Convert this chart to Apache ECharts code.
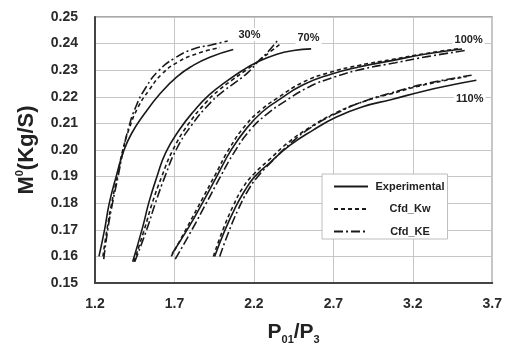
<!DOCTYPE html>
<html>
<head>
<meta charset="utf-8">
<script src="https://cdn.jsdelivr.net/npm/echarts@6/dist/echarts.min.js"></script>
<style>
html,body{margin:0;padding:0;background:#fff;}
#c{width:505px;height:350px;}
</style>
</head>
<body>
<div id="c"></div>
<script>
// ---- data (P01/P3, mass flow kg/s) ----
const seriesNames = ['Experimental', 'Cfd_Kw', 'Cfd_KE'];
const speedLabels = ['30%', '70%', '100%', '110%'];
const speedLabelAnchors = [[2.172, 0.2434], [2.543, 0.2421], [3.551, 0.2412], [3.558, 0.2192]];
const xTickMin = 1.2, xTickMax = 3.7, xTickStep = 0.5;
const yTickMin = 0.15, yTickMax = 0.25, yTickStep = 0.01;

const exp30 = [[1.225,0.160],[1.26,0.170],[1.29,0.180],[1.333,0.190],[1.38,0.1995],[1.43,0.2062],[1.51,0.2135],[1.613,0.2214],[1.715,0.2275],[1.818,0.2318],[1.922,0.2349],[2.07,0.2378]];
const kw30  = [[1.25,0.160],[1.275,0.170],[1.305,0.180],[1.34,0.190],[1.375,0.200],[1.415,0.208],[1.47,0.216],[1.54,0.2225],[1.62,0.2285],[1.72,0.2330],[1.84,0.2362],[1.985,0.2385]];
const ke30  = [[1.255,0.159],[1.28,0.170],[1.31,0.180],[1.345,0.190],[1.378,0.200],[1.41,0.208],[1.455,0.216],[1.52,0.2235],[1.60,0.2298],[1.70,0.2345],[1.82,0.2380],[1.93,0.2395],[2.035,0.2410]];

const exp70 = [[1.437,0.158],[1.50,0.171],[1.54,0.1805],[1.59,0.190],[1.645,0.199],[1.73,0.2075],[1.82,0.2145],[1.92,0.2208],[2.025,0.2257],[2.13,0.2300],[2.22,0.2330],[2.345,0.2360],[2.45,0.2374],[2.56,0.2380]];
const kw70  = [[1.445,0.158],[1.51,0.170],[1.56,0.180],[1.62,0.190],[1.69,0.200],[1.785,0.2095],[1.90,0.218],[1.98,0.2225],[2.06,0.2262],[2.15,0.2300],[2.23,0.2335],[2.30,0.2368],[2.37,0.2400]];
const ke70  = [[1.45,0.158],[1.525,0.170],[1.58,0.180],[1.64,0.190],[1.71,0.200],[1.81,0.2095],[1.93,0.218],[2.01,0.2222],[2.09,0.2257],[2.16,0.2290],[2.23,0.2335],[2.29,0.2370],[2.35,0.2413]];

const exp100 = [[1.685,0.161],[1.79,0.171],[1.88,0.1805],[1.963,0.1897],[2.06,0.2003],[2.16,0.2086],[2.25,0.2142],[2.345,0.2184],[2.51,0.2245],[2.68,0.2284],[2.86,0.2312],[3.067,0.2336],[3.273,0.2360],[3.51,0.2380]];
const kw100  = [[1.68,0.160],[1.78,0.171],[1.87,0.181],[1.955,0.1905],[2.05,0.2010],[2.15,0.2095],[2.25,0.2153],[2.35,0.2196],[2.51,0.2255],[2.68,0.2292],[2.86,0.2318],[3.067,0.2340],[3.273,0.2362],[3.50,0.2382]];
const ke100  = [[1.705,0.159],[1.81,0.170],[1.90,0.180],[1.985,0.1895],[2.08,0.1995],[2.18,0.2078],[2.28,0.2134],[2.38,0.2177],[2.54,0.2235],[2.71,0.2275],[2.89,0.2305],[3.09,0.2328],[3.30,0.2352],[3.54,0.2375]];

const exp110 = [[1.953,0.160],[2.015,0.1695],[2.08,0.178],[2.14,0.1845],[2.205,0.1900],[2.30,0.1952],[2.43,0.2019],[2.57,0.2074],[2.716,0.2123],[2.88,0.2162],[3.067,0.2190],[3.273,0.2222],[3.45,0.2245],[3.60,0.2262]];
const kw110  = [[1.945,0.160],[2.005,0.170],[2.07,0.179],[2.13,0.1858],[2.20,0.1910],[2.29,0.1960],[2.42,0.2030],[2.56,0.2088],[2.71,0.2138],[2.88,0.2180],[3.067,0.2212],[3.273,0.2245],[3.54,0.2276]];
const ke110  = [[1.985,0.160],[2.04,0.169],[2.10,0.1775],[2.16,0.1845],[2.22,0.1897],[2.31,0.1955],[2.43,0.2025],[2.56,0.2085],[2.71,0.2135],[2.88,0.2180],[3.067,0.2215],[3.273,0.2248],[3.57,0.2281]];

// ---- chart ----
const FONT = '"Liberation Sans", Arial, sans-serif';
const styles = {
  'Experimental': { type: 'solid' },
  'Cfd_Kw': { type: [4, 3] },
  'Cfd_KE': { type: [9, 3, 2, 3] }
};
const groups = [
  [exp30, kw30, ke30],
  [exp70, kw70, ke70],
  [exp100, kw100, ke100],
  [exp110, kw110, ke110]
];
const series = [];
groups.forEach(g => {
  g.forEach((d, i) => {
    const name = seriesNames[i];
    series.push({
      name: name,
      type: 'line',
      data: d,
      showSymbol: false,
      symbol: 'none',
      smooth: 0.5,
      lineStyle: { color: '#1a1a1a', width: 1.6, type: styles[name].type },
      itemStyle: { color: '#1a1a1a' },
      silent: true,
      animation: false
    });
  });
});

const chart = echarts.init(document.getElementById('c'), null, { renderer: 'canvas' });
chart.setOption({
  backgroundColor: '#ffffff',
  animation: false,
  grid: { left: 95, right: 5, top: 17, bottom: 60, show: true, borderColor: '#555', borderWidth: 1.2, backgroundColor: 'transparent' },
  xAxis: {
    type: 'value', min: xTickMin, max: xTickMax, interval: xTickStep,
    axisLine: { show: true, lineStyle: { color: '#444', width: 2 } },
    axisTick: { show: false },
    splitLine: { show: true, lineStyle: { color: '#c6c6c6', width: 1 } },
    axisLabel: { color: '#2a2a2a', fontFamily: FONT, fontWeight: 'bold', fontSize: 14, margin: 14, formatter: v => v.toFixed(1) },
    name: '{b|P}{s|01}{b|/P}{s|3}',
    nameLocation: 'middle', nameGap: 36,
    nameTextStyle: {
      rich: {
        b: { fontFamily: FONT, fontWeight: 'bold', fontSize: 21, color: '#222', lineHeight: 26, verticalAlign: 'middle' },
        s: { fontFamily: FONT, fontWeight: 'bold', fontSize: 11, color: '#222', lineHeight: 26, verticalAlign: 'bottom', padding: [12, 0, 0, 0] }
      }
    }
  },
  yAxis: {
    type: 'value', min: yTickMin, max: yTickMax, interval: yTickStep,
    axisLine: { show: true, lineStyle: { color: '#444', width: 2 } },
    axisTick: { show: false },
    splitLine: { show: true, lineStyle: { color: '#c6c6c6', width: 1 } },
    axisLabel: { color: '#2a2a2a', fontFamily: FONT, fontWeight: 'bold', fontSize: 14, margin: 17, formatter: v => v.toFixed(2) },
    name: '{b|M}{s|0}{b|(Kg/S)}',
    nameLocation: 'middle', nameGap: 55,
    nameTextStyle: {
      rich: {
        b: { fontFamily: FONT, fontWeight: 'bold', fontSize: 22, color: '#222', lineHeight: 26, verticalAlign: 'middle' },
        s: { fontFamily: FONT, fontWeight: 'bold', fontSize: 11, color: '#222', lineHeight: 26, verticalAlign: 'top', padding: [0, 0, 12, 0] }
      }
    }
  },
  legend: {
    data: seriesNames,
    orient: 'vertical',
    left: 322, top: 174,
    padding: [7, 3, 2, 11],
    itemGap: 11.5,
    itemWidth: 34, itemHeight: 12,
    backgroundColor: '#ffffff',
    borderColor: '#bdbdbd', borderWidth: 1,
    selectedMode: false,
    itemStyle: { opacity: 0 },
    formatter: n => '{c|' + n + '}',
    textStyle: {
      rich: { c: { width: 74, align: 'center', fontFamily: FONT, fontWeight: 'bold', fontSize: 11, color: '#222' } }
    }
  },
  series: series
});

// speed-line labels placed through the chart's own coordinate conversion
const graphics = speedLabels.map((t, i) => {
  const p = chart.convertToPixel({ gridIndex: 0 }, speedLabelAnchors[i]);
  return {
    type: 'text', x: p[0], y: p[1], z: 100,
    style: {
      text: t, fontFamily: FONT, fontWeight: 'bold', fontSize: 11, fill: '#222',
      align: 'center', verticalAlign: 'middle',
      backgroundColor: '#ffffff', padding: [1, 2, 1, 2]
    }
  };
});
chart.setOption({ graphic: graphics });
</script>
</body>
</html>
